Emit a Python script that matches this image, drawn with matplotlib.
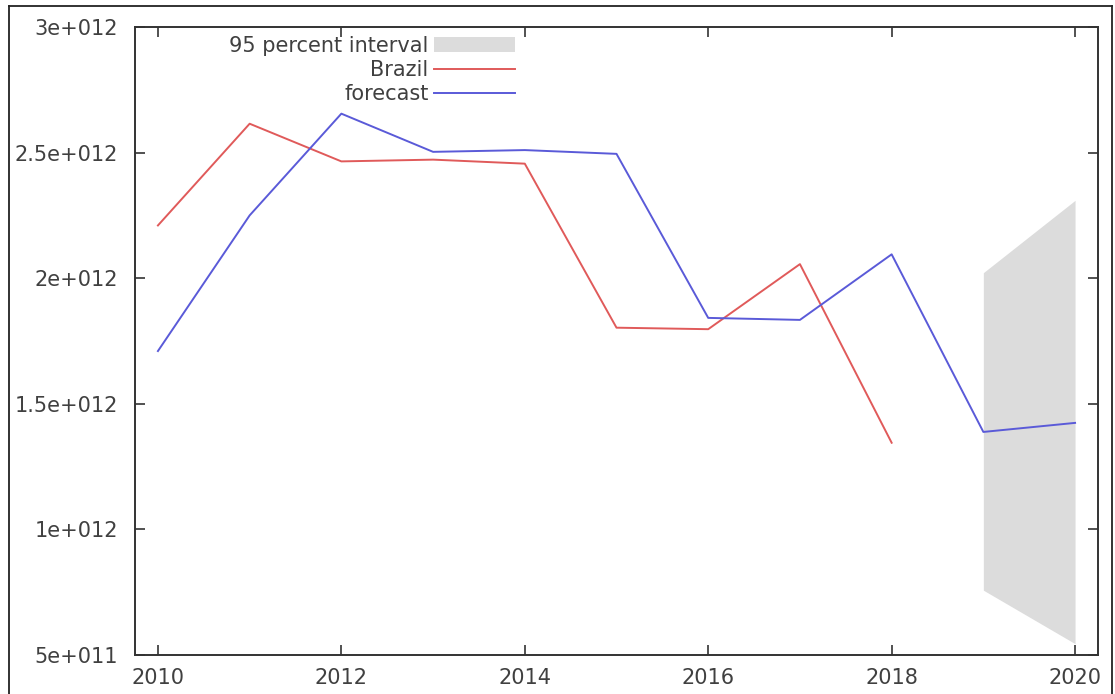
import matplotlib
matplotlib.use("Agg")
import matplotlib.pyplot as plt
from matplotlib.lines import Line2D

# Annual values (USD)
years = [2010, 2011, 2012, 2013, 2014, 2015, 2016, 2017, 2018]
brazil = [2.21e12, 2.615e12, 2.465e12, 2.472e12, 2.456e12, 1.803e12, 1.797e12, 2.056e12, 1.345e12]

forecast_years = [2010, 2011, 2012, 2013, 2014, 2015, 2016, 2017, 2018, 2019, 2020]
forecast = [1.71e12, 2.25e12, 2.655e12, 2.503e12, 2.51e12, 2.495e12, 1.842e12, 1.834e12, 2.095e12, 1.388e12, 1.424e12]

interval_years = [2019, 2020]
interval_low = [0.758e12, 0.545e12]
interval_high = [2.022e12, 2.31e12]

x_ticks = [2010, 2012, 2014, 2016, 2018, 2020]
y_ticks = [5e11, 1e12, 1.5e12, 2e12, 2.5e12, 3e12]
y_tick_labels = ["5e+011", "1e+012", "1.5e+012", "2e+012", "2.5e+012", "3e+012"]

W, H = 1115, 694
fig = plt.figure(figsize=(W / 100, H / 100), dpi=100)
text_color = "#404040"
fs = 15

left, right, top, bottom = 135, 1098, 27, 655
ax = fig.add_axes([left / W, 1 - bottom / H, (right - left) / W, (bottom - top) / H])

band = ax.fill_between(interval_years, interval_low, interval_high,
                       color="#dcdcdc", linewidth=0, label="95 percent interval")
ax.plot(years, brazil, color="#e05a5a", linewidth=1.4, label="Brazil")
ax.plot(forecast_years, forecast, color="#5a5ad8", linewidth=1.4, label="forecast")

ax.set_xlim(2009.75, 2020.25)
ax.set_ylim(5e11, 3e12)
ax.set_xticks(x_ticks)
ax.set_xticklabels([str(t) for t in x_ticks])
ax.set_yticks(y_ticks)
ax.set_yticklabels(y_tick_labels)
ax.tick_params(direction="in", length=7, width=1.2, color="#333333",
               top=True, right=True, labelsize=fs, labelcolor=text_color)
ax.tick_params(axis="x", pad=9)
ax.tick_params(axis="y", pad=12)
for sp in ax.spines.values():
    sp.set_color("#333333")
    sp.set_linewidth(1.4)

leg = ax.legend(loc="upper right", bbox_to_anchor=(515 / W, 1 - 36 / H),
                bbox_transform=fig.transFigure, frameon=False, markerfirst=False,
                fontsize=fs, handlelength=3.9, handletextpad=0.25,
                labelspacing=0.2, borderpad=0, borderaxespad=0)
for t in leg.get_texts():
    t.set_color(text_color)

# Outer frame around the figure
frame_kw = dict(transform=fig.transFigure, color="#222222", linewidth=1.3)
fig.add_artist(Line2D([9 / W, 9 / W], [0, 1 - 6 / H], **frame_kw))
fig.add_artist(Line2D([9 / W, 1112 / W], [1 - 6 / H, 1 - 6 / H], **frame_kw))
fig.add_artist(Line2D([1112 / W, 1112 / W], [0, 1 - 6 / H], **frame_kw))

fig.savefig("out.png", dpi=100)
